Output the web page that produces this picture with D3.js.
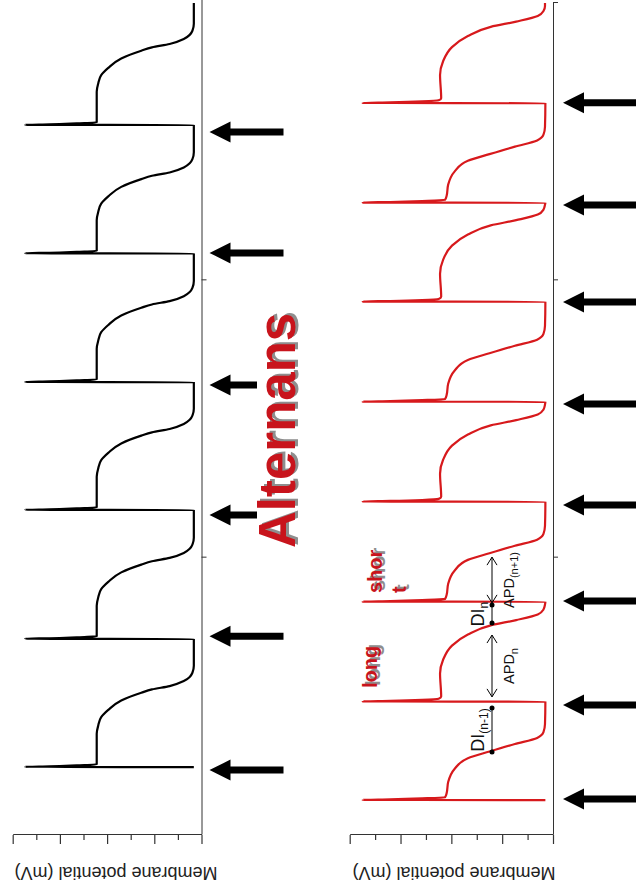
<!DOCTYPE html>
<html>
<head>
<meta charset="utf-8">
<script src="https://cdn.jsdelivr.net/npm/d3@7"></script>
<style>
body { margin: 0; background: #fff; }
svg { display: block; font-family: "Liberation Sans", Arial, sans-serif; }
</style>
</head>
<body>
<script>
// the figure is laid out in its landscape form (time left->right),
// then the whole group is turned a quarter turn so time runs upward
var W = 894, H = 636;

// beat onsets and stimulus arrows (ms)
var blackBeats = [245, 707, 1172, 1633, 2097, 2560];
var blackStim  = [234, 717, 1154, 1623, 2099, 2535];
var redBeats = [126, 481, 841, 1202, 1562, 1923, 2280, 2639];
var redKinds = ["short", "long", "short", "long", "short", "long", "short", "long"];
var redStim  = [130, 469, 844, 1190, 1554, 1922, 2272, 2640];
var traceEnd = 3000;

// action potential shapes: ms after upstroke, mV
var apBlackT = [0, 0.5, 2.5, 6, 9, 120, 150, 180, 206, 240, 268, 280, 292, 310, 325, 340, 365];
var apBlackV = [-93.5, 49.6, 28.5, 5.7, -11.2, -11.2, -12.5, -15, -21, -32, -49, -58, -73, -85, -90, -92.3, -93.5];
var apShortT = [0, 0.5, 2.5, 6, 10, 25, 65, 112, 151, 175, 202, 224, 245, 274];
var apShortV = [-94, 49.8, 28, 3, -15, -16.3, -17.5, -22.5, -33, -50, -70, -87.5, -92.5, -93.7];
var apLongT  = [0, 0.5, 2.5, 6, 10, 18, 101, 151, 202, 242, 275, 294, 314, 332, 350];
var apLongV  = [-94, 49.8, 28, 3, -10, -12, -11.1, -13.5, -20.5, -33, -51, -71, -88, -92.5, -93.7];

var timeTicks = [1000, 2000, 3000];
var voltTicks = [-100, -80, -60, -40, -20, 0, 20, 40, 60];
var voltMajor = [-100, -60, -20, 20, 60];

// interval annotations on the red trace
var ivLabel = ["DI", "APD", "DI", "APD"];
var ivSub   = ["(n-1)", "n", "n", "(n+1)"];
var ivStart = [299, 498, 764, 837];
var ivEnd   = [458, 721, 829, 1002];
var ivKind  = ["dot", "arrow", "dot", "arrow"];
var ivLevel = -52;

var svg = d3.select("body").append("svg")
    .attr("width", H)
    .attr("height", W);

var g = svg.append("g")
    .attr("transform", "translate(0," + W + ") rotate(-90)");

var x = d3.scaleLinear().domain([0, 3000]).range([59, 891]);
var xBlackAxis = d3.scaleLinear().domain([0, x.invert(W)]).range([59, W]);
var yBlack = d3.scaleLinear().domain([-100, 60]).range([201.5, 12.7]);
var yRed = d3.scaleLinear().domain([-100, 60]).range([553, 349.7]);

var shapes = {
    black: { t: apBlackT, v: apBlackV },
    short: { t: apShortT, v: apShortV },
    long:  { t: apLongT,  v: apLongV }
};

function buildTrace(beats, kinds) {
    var pts = [];
    beats.forEach(function(b, i) {
        var s = shapes[kinds[i]];
        s.t.forEach(function(t, j) { pts.push([b + t, s.v[j]]); });
    });
    pts.push([traceEnd, pts[pts.length - 1][1]]);
    return pts;
}

var blackTrace = buildTrace(blackBeats, blackBeats.map(function() { return "black"; }));
var redTrace = buildTrace(redBeats, redKinds);

function drawPanel(trace, yScale, color, timeScale, tTicks, stim, tipGap, labelY) {
    var line = d3.line()
        .x(function(d) { return x(d[0]); })
        .y(function(d) { return yScale(d[1]); })
        .curve(d3.curveMonotoneX);

    // time axis
    var ta = g.append("g")
        .attr("transform", "translate(0," + yScale.range()[0] + ")")
        .call(d3.axisBottom(timeScale).tickValues(tTicks).tickSize(5).tickSizeOuter(0).tickFormat(""));
    ta.selectAll("path, line").attr("stroke", "#333").attr("stroke-width", 1);

    // voltage axis
    var va = g.append("g")
        .attr("transform", "translate(59,0)")
        .call(d3.axisLeft(yScale).tickValues(voltTicks).tickSize(9).tickSizeOuter(0).tickFormat(""));
    va.selectAll("path, line").attr("stroke", "#333").attr("stroke-width", 1.2);
    va.selectAll(".tick line")
        .attr("x2", function(d) { return voltMajor.indexOf(d) >= 0 ? -9 : -5; });

    g.append("text")
        .attr("transform", "translate(27," + labelY + ") rotate(-90)")
        .attr("text-anchor", "middle")
        .attr("font-size", 18)
        .attr("fill", "#222")
        .text("Membrane potential (mV)");

    g.append("path")
        .attr("d", line(trace))
        .attr("fill", "none")
        .attr("stroke", color)
        .attr("stroke-width", 2.2)
        .attr("stroke-linejoin", "round");

    // stimulus arrows
    var tip = yScale.range()[0] + tipGap;
    g.selectAll(null)
        .data(stim)
        .enter()
        .append("path")
        .attr("d", function(t) {
            var X = x(t);
            return "M" + X + "," + tip +
                "L" + (X - 10.5) + "," + (tip + 21) +
                "L" + (X - 3.5) + "," + (tip + 21) +
                "L" + (X - 3.5) + "," + (tip + 74) +
                "L" + (X + 3.5) + "," + (tip + 74) +
                "L" + (X + 3.5) + "," + (tip + 21) +
                "L" + (X + 10.5) + "," + (tip + 21) + "Z";
        })
        .attr("fill", "#000");
}

drawPanel(blackTrace, yBlack, "#000", xBlackAxis, [1000, 2000], blackStim, 8, 116);
drawPanel(redTrace, yRed, "#d7191c", x, timeTicks, redStim, 10, 454);

// red labels with grey drop shadow
function shadowText(str, X, Y, size) {
    g.append("text").attr("x", X + 2).attr("y", Y + 3)
        .attr("font-size", size).attr("font-weight", "bold")
        .attr("fill", "#8e8e8e").text(str);
    g.append("text").attr("x", X).attr("y", Y)
        .attr("font-size", size).attr("font-weight", "bold")
        .attr("fill", "#c8141c").text(str);
}

g.append("rect")
    .attr("x", 340).attr("y", 257)
    .attr("width", 250).attr("height", 46)
    .attr("fill", "#fff");
shadowText("Alternans", 346, 295, 51);
shadowText("long", 206, 377, 20);
shadowText("shor", 301, 382, 20);
shadowText("t", 301, 406, 20);

// DI / APD annotations
var lvl = yRed(ivLevel);
ivLabel.forEach(function(lab, i) {
    var x0 = x(ivStart[i]), x1 = x(ivEnd[i]);
    g.append("line")
        .attr("x1", x0).attr("x2", x1)
        .attr("y1", lvl).attr("y2", lvl)
        .attr("stroke", "#000").attr("stroke-width", 1);
    if (ivKind[i] === "dot") {
        [x0, x1].forEach(function(px) {
            g.append("circle").attr("cx", px).attr("cy", lvl).attr("r", 2.5).attr("fill", "#000");
        });
    } else {
        g.append("path")
            .attr("d", "M" + (x0 + 8) + "," + (lvl - 5) + "L" + x0 + "," + lvl + "L" + (x0 + 8) + "," + (lvl + 5) +
                       "M" + (x1 - 8) + "," + (lvl - 5) + "L" + x1 + "," + lvl + "L" + (x1 - 8) + "," + (lvl + 5))
            .attr("fill", "none").attr("stroke", "#000").attr("stroke-width", 1);
    }
    var isDI = ivKind[i] === "dot";
    var t = g.append("text")
        .attr("x", (x0 + x1) / 2)
        .attr("y", isDI ? lvl - 8 : lvl + 22)
        .attr("text-anchor", "middle")
        .attr("font-size", isDI ? 18 : 14.5)
        .attr("fill", "#111");
    t.append("tspan").text(lab);
    t.append("tspan")
        .attr("dy", 4)
        .attr("font-size", isDI ? 12 : 11)
        .text(ivSub[i]);
});
</script>
</body>
</html>
